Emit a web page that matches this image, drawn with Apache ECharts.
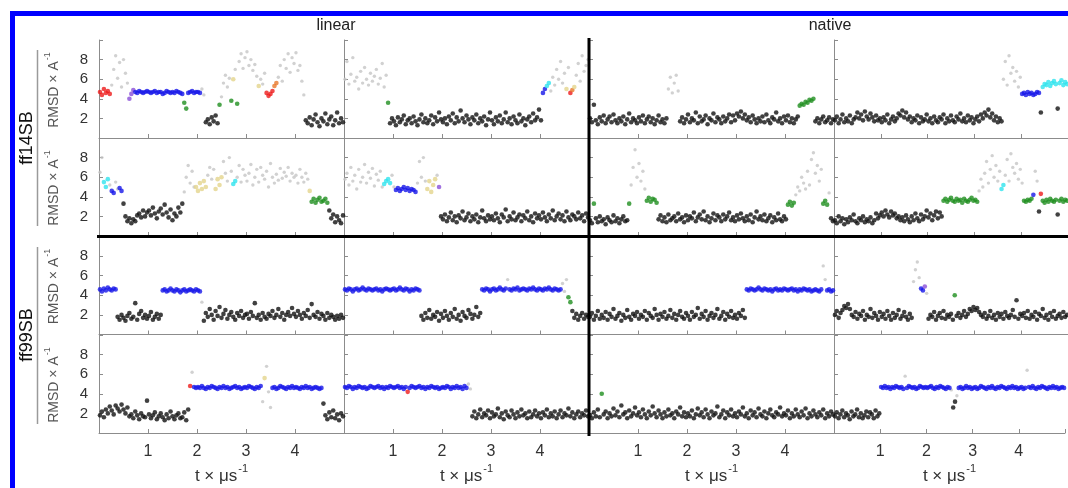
<!DOCTYPE html>
<html><head><meta charset="utf-8">
<script src="https://cdn.jsdelivr.net/npm/echarts@6/dist/echarts.min.js"></script>
<style>html,body{margin:0;padding:0;background:#fff}#c{width:1068px;height:488px}</style>
</head><body><div id="c"></div>
<script>
// Sampling of the plotted trajectory frames (µs)
const FRAME_T0 = 0.02, FRAME_DT = 0.04;
const X_TICKS = [1, 2, 3, 4];
const Y_TICKS = [2, 4, 6, 8];
const COLUMN_TITLES = ['linear', 'native'];
const ROW_TITLES = ['ff14SB', 'ff99SB'];

// Cluster codes: k black, b blue, r red, g green, c cyan, y khaki, o orange, p purple, n unclustered (grey)
// ---- ff14SB, row 1 ----
const p11_rmsd = [4.7,4.4,5.0,4.6,4.8,4.5,5.4,7.0,8.4,6.1,7.7,5.2,8.0,6.6,5.6,4.0,4.5,4.9,4.7,4.6,4.8,4.7,4.6,4.7,4.8,
4.7,4.6,4.7,4.8,4.6,4.7,4.7,4.5,4.6,4.8,4.7,4.6,4.7,4.6,4.8,4.7,4.6,4.5,3.6,3.0,4.6,4.7,4.8,4.6,4.7,
4.7,4.6,5.0,4.4,1.6,1.9,1.4,2.1,1.7,2.3,1.5,3.4,4.2,5.6,6.4,5.2,6.1,3.8,6.0,7.0,3.5,7.8,8.6,7.1,8.2,
8.8,7.4,8.0,6.9,7.5,6.3,5.3,6.0,5.5,6.6,4.6,4.3,4.5,4.8,5.3,5.6,6.2,7.4,5.8,8.0,7.1,8.6,6.7,8.2,7.6,
8.7,6.9,7.4,5.8,4.4,1.8,1.5,2.1,1.3,1.9,2.4,1.6,1.2,2.0,1.7,2.5,1.4,1.9,2.2,1.3,1.8,2.6,1.5,2.0,1.6];
const p11_runs = 'r6 n9 p3 b25 g2 b7 n2 k7 g1 n5 g1 y1 n1 g1 n10 y1 n3 r4 o2 n14 k20';

const p12_rmsd = [6.0,7.8,5.5,6.5,8.2,5.8,6.2,5.0,6.8,5.6,7.2,6.0,5.4,6.6,5.8,6.3,7.0,5.5,6.1,7.6,5.2,6.4,3.6,1.5,2.0,
1.7,1.3,2.1,1.6,1.9,2.3,1.4,1.8,2.0,1.5,2.2,1.7,1.3,1.9,2.4,1.6,2.0,1.5,1.8,2.3,1.4,2.1,1.7,2.6,1.9,
1.6,2.0,1.4,2.2,1.8,2.5,1.5,2.1,1.7,2.8,2.0,1.6,2.3,1.9,1.4,2.1,1.8,2.4,1.5,2.0,1.7,2.2,1.3,1.9,2.6,
1.8,1.4,2.1,1.7,2.3,1.5,1.9,2.6,1.6,2.0,1.4,2.2,1.8,1.5,2.4,1.7,2.0,1.3,1.9,2.2,1.6,2.5,1.8,2.1,2.9,
1.8,4.6,5.0,5.3,5.6,4.8,6.2,5.4,7.0,6.0,7.8,5.6,6.6,5.0,7.2,4.6,4.9,5.2,6.4,7.6,5.8,8.4,6.8,7.4,8.0];
const p12_runs = 'n22 g1 k78 b2 c2 n8 y1 n1 r1 o1 y1 n7';

const p13_rmsd = [2.0,1.6,3.4,1.8,1.4,2.1,1.7,2.3,1.5,1.9,2.2,1.6,2.4,1.8,1.5,2.0,1.7,2.2,1.4,1.9,2.5,1.6,2.0,1.8,1.5,
2.1,1.7,2.3,1.5,1.9,2.2,1.6,2.0,1.4,1.8,2.3,1.6,1.9,1.5,2.0,5.0,6.2,4.6,5.6,6.4,4.8,1.7,2.1,1.5,1.9,
2.4,1.6,2.0,1.8,2.6,1.5,2.2,1.7,1.9,2.3,1.4,2.0,1.8,2.5,1.6,2.1,1.9,1.5,2.2,1.7,2.0,2.4,1.6,2.3,1.8,
2.5,2.2,2.7,2.0,2.4,1.8,2.1,1.6,2.3,1.9,1.5,2.0,1.7,2.2,1.6,2.4,1.8,1.5,2.1,1.9,2.6,1.7,2.0,1.5,2.2,
1.8,2.3,1.6,2.0,1.5,1.9,2.2,3.3,3.5,3.4,3.7,3.6,3.9,3.8,4.0,1.7,2.0,1.5,1.9,2.2,1.6,1.8,2.1,1.5,1.9];
const p13_runs = 'k40 n6 k61 g8 k10';

const p14_rmsd = [1.8,2.2,1.5,1.9,2.4,1.6,2.0,1.7,2.3,1.5,1.9,2.1,2.6,2.0,2.4,1.8,2.7,2.2,1.9,2.5,2.1,1.7,2.3,1.8,2.0,
1.6,2.1,1.8,2.4,1.5,1.9,2.2,1.7,2.0,2.5,2.3,2.8,2.1,2.6,1.9,2.2,1.6,2.0,1.8,2.3,1.5,2.1,1.7,1.9,2.4,
1.7,2.0,1.5,2.2,1.8,1.6,2.1,1.9,2.4,1.5,2.0,1.7,2.3,1.8,1.6,2.2,1.9,2.5,1.7,2.0,1.6,2.3,1.8,2.1,1.5,
1.9,2.2,1.7,2.4,2.0,2.6,2.3,2.9,2.1,2.5,1.8,2.2,1.6,2.0,1.7,6.0,7.8,5.4,8.4,6.6,7.2,5.8,6.8,5.2,6.2,
4.5,4.6,4.4,4.7,4.5,4.6,4.4,4.5,4.7,4.6,2.6,5.2,5.5,5.4,5.7,5.3,5.6,5.8,5.5,3.0,5.6,5.9,5.4,5.7,5.5];
const p14_runs = 'k90 n10 b10 k1 c8 k1 c5';

// ---- ff14SB, row 2 ----
const p21_rmsd = [6.5,8.0,5.5,5.0,5.8,5.2,4.6,4.4,5.5,4.8,4.9,4.6,3.3,2.0,1.5,1.8,1.3,1.7,1.5,2.1,2.3,1.9,2.6,2.0,2.4,
2.6,2.1,2.9,2.3,1.8,2.5,2.8,2.2,3.2,2.4,1.9,2.7,1.6,2.3,2.0,2.9,2.4,3.3,4.5,6.0,7.2,5.4,6.6,5.0,5.0,
4.6,5.4,4.8,5.6,5.0,6.2,7.0,5.8,6.8,4.8,5.8,5.2,6.0,7.6,6.4,5.6,8.0,6.6,5.3,5.6,6.0,7.2,5.5,6.8,6.2,
5.6,6.4,7.3,5.2,6.0,6.8,5.5,7.0,6.2,5.8,6.6,5.0,7.4,6.0,5.4,6.3,5.7,6.9,5.9,6.5,6.1,7.0,5.6,6.4,6.0,
6.2,5.4,6.8,6.0,5.5,6.4,5.8,4.6,3.5,3.8,3.4,3.7,3.9,3.5,3.6,3.8,3.4,2.6,1.8,2.2,1.4,2.0,1.6,1.3,2.1];
const p21_runs = 'n2 c3 n1 b2 n2 b2 k31 n6 y6 n4 y4 n5 c2 n37 y1 g9 k8';

const p22_rmsd = [5.8,6.4,5.2,7.0,5.6,6.2,4.8,6.8,5.5,6.0,7.3,5.4,6.5,5.9,6.9,5.1,6.3,5.7,6.6,5.0,5.3,5.6,5.8,5.4,6.2,
5.0,4.7,4.9,4.6,4.8,5.0,4.7,4.9,4.6,4.8,4.7,4.5,5.4,7.6,6.0,8.0,5.6,4.8,5.6,4.5,5.2,5.8,6.2,5.0,2.0,
1.7,2.2,1.5,1.9,2.4,1.6,2.0,1.4,2.1,1.8,2.5,1.6,1.9,2.3,1.5,2.0,1.7,2.2,1.4,1.9,2.6,1.8,1.5,2.1,1.7,
2.0,1.6,2.3,1.8,1.4,2.2,1.9,2.7,1.5,2.0,1.7,2.4,1.6,1.9,2.2,1.5,2.1,1.8,2.5,1.6,2.0,1.4,2.3,1.8,2.1,
1.7,2.4,1.9,1.5,2.2,1.8,2.6,1.6,2.0,2.3,1.7,2.1,1.5,2.5,1.9,1.6,2.2,2.0,1.7,2.4,1.8,2.1,1.5,2.3,1.9];
const p22_runs = 'n20 c4 n2 b11 n5 y5 n1 p1 k76';

const p23_rmsd = [1.6,1.3,3.3,1.8,1.4,2.0,1.5,1.7,1.2,1.9,1.6,1.4,2.1,1.5,1.8,1.3,1.7,2.0,1.5,1.6,3.3,5.2,7.0,8.8,6.0,
7.4,5.6,6.6,4.8,3.6,3.9,3.5,3.8,3.7,3.4,1.7,2.1,1.5,1.9,1.4,2.2,1.6,1.8,2.0,1.5,2.3,1.7,1.9,1.4,2.1,
1.6,2.0,1.8,2.4,1.5,1.9,2.2,1.7,2.5,1.6,2.0,1.4,1.8,2.3,1.6,2.1,1.9,1.5,2.2,1.7,2.0,2.4,1.6,1.9,1.5,
2.1,1.7,2.3,1.8,1.5,2.0,1.6,2.2,1.4,1.9,2.5,1.7,2.0,1.6,2.2,1.5,1.8,2.1,1.4,1.9,1.6,2.3,1.7,1.5,2.0,
1.7,3.2,3.5,3.1,3.4,4.2,5.0,4.6,6.0,5.4,4.8,6.6,5.2,7.8,8.5,6.4,7.2,5.6,6.8,3.3,3.6,3.2,4.4,1.8,1.5];
const p23_runs = 'k2 g1 k17 g1 n8 g6 k66 g4 n14 g3 n1 k2';

const p24_rmsd = [1.6,1.3,2.0,1.5,1.8,1.2,1.7,1.4,1.9,1.6,2.2,1.5,1.3,1.8,1.6,2.0,1.4,1.7,1.5,1.9,1.3,1.6,2.3,1.8,2.1,
2.4,2.0,2.6,2.2,1.9,2.5,2.1,2.3,1.8,2.0,1.6,1.9,1.5,2.1,1.7,1.4,2.0,1.6,2.3,1.8,1.5,2.2,1.7,2.0,2.6,
1.9,2.3,1.6,2.1,2.5,1.8,2.4,2.0,3.6,3.8,3.5,3.7,3.9,3.6,3.5,3.8,3.6,3.7,3.4,3.8,3.6,3.5,3.7,3.9,3.6,
3.7,3.5,4.6,5.8,5.0,6.4,7.6,5.4,6.8,8.2,6.0,7.2,5.6,6.6,4.8,5.2,6.2,7.8,5.6,8.4,7.0,6.4,7.4,5.8,6.8,
5.4,3.6,3.5,3.7,3.6,3.8,4.2,6.6,5.6,2.5,4.3,3.6,3.4,3.7,3.5,3.8,3.6,3.5,3.7,2.2,3.6,3.8,3.5,3.7,3.6];
const p24_runs = 'k58 g19 n12 c2 n10 g5 b1 n2 k1 r1 g8 k1 g5';

// ---- ff99SB, row 3 ----
const p31_rmsd = [4.6,4.4,4.7,4.5,4.8,4.6,4.5,4.7,4.6,1.8,1.5,2.0,1.7,1.4,1.9,2.2,1.6,1.8,3.2,1.5,2.1,2.4,1.7,2.0,1.6,
1.9,2.3,1.5,1.8,2.1,1.6,2.0,4.5,4.6,4.4,4.5,4.7,4.5,4.4,4.6,4.5,4.3,4.5,4.6,4.4,4.5,4.6,4.5,4.4,4.6,
4.5,4.4,3.3,1.4,2.2,1.8,2.6,2.0,1.5,2.4,1.9,2.8,1.7,2.1,2.5,1.6,2.0,2.3,1.8,1.5,2.2,1.9,2.4,1.7,2.0,
2.1,1.6,2.3,1.9,3.2,1.7,2.0,1.5,2.2,1.8,1.6,2.1,1.9,2.4,1.7,2.0,2.6,1.8,2.2,1.5,2.0,2.3,1.9,2.7,2.1,
1.8,2.4,2.0,1.6,2.2,1.9,2.5,1.7,3.1,2.0,1.8,2.3,1.6,2.1,1.9,1.5,2.2,1.7,2.0,1.8,1.5,1.9,1.6,2.0,1.7];
const p31_runs = 'b9 k23 b20 n1 k72';

const p32_rmsd = [4.6,4.5,4.7,4.6,4.4,4.6,4.7,4.5,4.6,4.8,4.6,4.5,4.7,4.6,4.5,4.6,4.7,4.5,4.6,4.4,4.6,4.7,4.6,4.5,4.6,
4.7,4.5,4.6,4.8,4.6,4.5,4.7,4.6,4.4,4.6,4.5,4.7,4.6,4.5,1.9,1.5,2.2,1.7,2.5,1.6,2.0,1.8,2.3,1.4,2.1,
1.7,2.4,1.9,1.5,2.2,1.8,2.6,1.6,2.0,1.4,2.3,1.9,1.7,2.5,2.1,1.6,2.0,2.8,1.8,2.2,4.6,4.5,4.7,4.6,4.4,
4.6,4.7,4.5,4.6,4.8,4.6,4.5,4.7,5.6,4.6,4.5,4.7,4.6,4.8,4.5,4.6,4.7,4.6,4.5,4.7,4.6,4.8,4.6,4.5,4.7,
4.6,4.5,4.7,4.6,4.8,4.6,4.5,4.7,4.6,4.5,4.6,5.2,4.4,5.6,3.8,3.3,2.4,1.7,2.1,1.5,1.9,2.2,1.6,2.0,1.8];
const p32_runs = 'b39 k31 b13 n1 b27 n3 g2 k9';

const p33_rmsd = [1.8,2.2,1.5,1.9,2.4,1.6,2.0,1.7,2.3,1.5,2.1,1.8,2.6,1.6,1.9,2.2,1.4,2.0,1.7,2.5,1.8,1.5,2.1,1.9,2.3,
1.6,2.0,1.8,2.4,1.5,2.2,1.9,1.7,2.6,2.0,1.5,2.1,1.8,2.3,1.6,1.9,2.5,1.7,2.1,1.5,2.0,2.4,1.8,1.6,2.2,
1.9,1.5,2.3,1.8,2.0,2.7,1.6,2.1,1.8,2.4,1.5,1.9,2.2,1.7,2.0,2.6,1.6,1.9,2.3,1.5,2.1,1.8,2.4,1.7,2.0,
1.6,2.2,1.9,2.5,1.7,4.6,4.5,4.7,4.6,4.5,4.6,4.8,4.6,4.5,4.7,4.6,4.5,4.6,4.4,4.6,4.7,4.5,4.6,4.5,4.7,
4.6,4.5,4.6,4.7,4.5,4.6,4.4,4.6,4.5,4.7,4.6,4.5,4.6,4.4,4.5,4.6,4.5,4.4,4.6,7.0,5.6,4.5,4.6,4.4,4.5];
const p33_runs = 'k80 b39 n2 b4';

const p34_rmsd = [2.0,2.4,1.7,2.2,2.5,2.9,2.7,3.1,2.6,2.0,1.8,2.3,1.6,2.1,1.9,2.4,1.5,2.0,1.8,2.6,1.7,2.2,1.9,1.5,2.3,
1.8,2.1,1.6,2.4,1.9,1.5,2.2,1.7,2.0,2.5,1.6,1.9,2.3,1.8,1.5,2.1,1.7,5.4,6.6,7.4,5.8,4.7,4.5,4.9,4.2,
1.6,2.0,1.8,2.3,1.5,1.9,2.2,1.7,2.4,1.6,2.0,1.8,2.1,1.5,4.0,1.9,2.2,1.7,2.0,2.4,1.8,2.1,2.6,2.4,2.8,
2.5,2.7,2.3,2.0,1.8,2.2,1.6,1.9,2.4,1.7,2.0,1.5,2.2,1.8,2.1,1.6,2.3,1.9,1.7,2.0,2.5,1.8,3.5,1.6,2.1,
1.9,2.2,1.7,2.4,1.6,2.0,1.8,2.3,1.5,2.1,1.9,2.6,1.7,2.0,1.5,2.2,1.8,2.4,1.6,1.9,2.1,1.7,2.3,1.8,2.0];
const p34_runs = 'k42 n4 b2 p1 n1 k14 g1 k60';

// ---- ff99SB, row 4 ----
const p41_rmsd = [1.8,2.2,1.6,2.4,2.0,2.7,2.3,1.9,2.8,2.5,2.2,2.9,2.4,2.0,2.6,1.7,1.9,1.5,2.2,1.8,1.4,2.0,1.7,1.6,3.3,
1.9,1.5,1.8,2.1,1.4,1.7,2.0,1.6,1.3,1.9,1.5,2.2,1.7,1.4,1.8,2.0,1.5,1.6,2.1,1.3,2.4,4.8,6.2,4.7,4.6,
4.7,4.6,4.8,4.6,4.5,4.7,4.6,4.8,4.7,4.6,4.5,4.7,4.6,4.8,4.6,4.7,4.5,4.6,4.7,4.8,4.6,4.7,4.5,4.6,4.7,
4.6,4.8,4.7,4.6,4.5,4.7,4.6,4.8,3.2,5.6,6.8,4.2,2.6,4.6,4.7,4.5,4.6,4.8,4.7,4.6,4.5,4.7,4.6,4.8,4.6,
4.7,4.6,4.5,4.7,4.6,4.8,4.6,4.7,4.5,4.6,4.7,4.6,4.5,4.6,3.0,1.8,1.4,2.1,1.6,2.3,1.5,1.9,1.3,2.0,1.7];
const p41_runs = 'k46 r1 n1 b35 n1 y1 n3 b26 k11';

const p42_rmsd = [4.7,4.6,4.8,4.7,4.5,4.7,4.6,4.8,4.7,4.6,4.7,4.5,4.6,4.8,4.7,4.6,4.7,4.8,4.6,4.7,4.5,4.7,4.6,4.8,4.7,
4.6,4.7,4.8,4.6,4.7,4.5,4.7,4.2,4.6,4.8,4.7,4.6,4.7,4.8,4.6,4.7,4.5,4.7,4.6,4.8,4.7,4.6,4.7,4.5,4.6,
4.7,4.6,4.8,4.7,4.5,4.7,4.6,4.8,4.6,4.7,4.5,4.8,4.6,5.0,4.5,1.7,2.2,1.5,1.9,2.4,1.6,2.0,1.8,2.3,1.5,
2.1,1.7,1.9,2.5,1.6,2.0,1.4,2.2,1.8,1.6,2.3,1.9,1.5,2.1,1.7,2.4,1.8,2.0,1.5,2.2,1.6,1.9,2.3,1.7,2.0,
1.5,2.1,1.8,2.4,1.6,2.0,1.7,2.2,1.5,1.9,2.3,1.6,2.0,1.8,2.5,1.7,2.1,1.5,1.9,2.2,1.6,2.0,1.8,2.3,1.7];
const p42_runs = 'b32 r1 b30 n2 k60';

const p43_rmsd = [1.8,1.5,2.1,1.7,2.4,1.6,4.0,1.9,2.2,1.5,2.0,1.7,2.5,1.8,2.2,1.6,2.8,1.9,2.1,1.5,2.3,1.7,2.0,2.6,1.8,
2.1,1.6,2.4,1.9,1.5,2.2,1.8,2.7,2.0,1.6,2.3,1.9,1.5,2.1,1.7,2.4,1.8,2.0,1.5,2.2,1.9,2.6,1.7,2.1,1.6,
2.0,1.7,2.3,1.5,1.9,2.5,1.8,2.1,1.6,2.4,1.9,1.5,2.2,1.8,2.0,2.7,1.6,1.9,2.3,1.5,2.1,1.8,2.4,1.7,2.0,
1.6,2.2,1.9,2.6,1.7,2.0,1.5,2.3,1.8,2.1,1.6,2.5,1.9,1.7,2.2,1.5,2.0,2.4,1.8,1.6,2.1,1.9,2.6,1.7,2.0,
1.8,2.3,1.5,2.0,1.7,2.4,1.9,1.6,2.2,1.8,2.5,1.5,2.0,1.7,2.3,1.9,1.6,2.1,1.8,2.4,1.5,2.0,1.7,2.2,1.9];
const p43_runs = 'k6 g1 k118';

const p44_rmsd = [1.7,2.1,1.5,1.9,2.3,1.6,2.0,1.8,1.4,2.2,1.7,1.9,2.4,1.6,2.0,1.5,1.8,2.2,1.6,2.1,1.9,1.5,2.3,1.7,2.0,
4.7,4.6,4.8,4.6,4.7,4.5,4.7,4.6,4.8,4.7,4.6,4.7,4.5,5.8,4.6,4.8,4.7,4.6,4.7,4.5,4.6,4.8,4.7,4.6,4.7,
4.6,4.7,4.8,4.6,4.5,4.7,4.6,4.8,4.7,4.6,4.5,4.7,4.6,4.4,2.6,3.2,3.8,4.6,4.7,4.5,4.6,4.8,4.6,4.7,4.5,
4.6,4.7,4.5,4.6,4.8,4.7,4.6,4.5,4.7,4.6,4.8,4.6,4.5,4.7,4.6,4.8,4.7,4.6,4.5,4.7,4.6,4.8,4.6,4.7,4.5,
4.6,4.7,4.5,4.6,6.4,4.7,4.6,4.8,4.6,4.5,4.7,4.6,4.8,4.7,4.6,4.5,4.7,4.6,4.8,4.6,4.7,4.5,4.6,4.7,4.6];
const p44_runs = 'k25 b13 n1 b24 n1 k2 n1 b37 n1 b20';

const PANEL_DATA = [
  [p11_rmsd, p11_runs], [p12_rmsd, p12_runs], [p13_rmsd, p13_runs], [p14_rmsd, p14_runs],
  [p21_rmsd, p21_runs], [p22_rmsd, p22_runs], [p23_rmsd, p23_runs], [p24_rmsd, p24_runs],
  [p31_rmsd, p31_runs], [p32_rmsd, p32_runs], [p33_rmsd, p33_runs], [p34_rmsd, p34_runs],
  [p41_rmsd, p41_runs], [p42_rmsd, p42_runs], [p43_rmsd, p43_runs], [p44_rmsd, p44_runs]
];

const CLUSTER_COLORS = {
  k: '#111111', b: '#1616e8', r: '#ee1c1c', g: '#1f8f1f', c: '#30e4ee',
  y: '#e4d48c', o: '#e8782a', p: '#8a4fd8', n: '#c6c6c6'
};

function expandRuns(s) {
  const out = [];
  s.trim().split(/\s+/).forEach(tok => {
    const code = tok[0], n = parseInt(tok.slice(1), 10);
    for (let i = 0; i < n; i++) out.push(code);
  });
  return out;
}

const COL_LEFT = [99, 344, 589, 834];
const ROW_TOP = [40, 138, 236.5, 335];
const PW = 245, PH = 98;
const FONT = '"Liberation Sans", Arial, sans-serif';
const AXIS_GREY = '#8c8c8c';

const grids = [], xAxes = [], yAxes = [], series = [];
for (let r = 0; r < 4; r++) {
  for (let c = 0; c < 4; c++) {
    const idx = r * 4 + c;
    grids.push({ left: COL_LEFT[c], top: ROW_TOP[r], width: PW, height: PH });
    xAxes.push({
      gridIndex: idx, type: 'value', min: 0, max: 5, interval: 1,
      axisLine: { show: true, lineStyle: { color: AXIS_GREY, width: 1 } },
      axisTick: { show: true, inside: true, length: 4, lineStyle: { color: AXIS_GREY } },
      splitLine: { show: false },
      axisLabel: {
        show: r === 3, fontSize: 16, color: '#333', fontFamily: FONT, margin: 11,
        formatter: v => X_TICKS.includes(v) ? String(v) : ''
      },
      name: r === 3 ? '{a|t × μs}{s|-1}' : '',
      nameLocation: 'middle', nameGap: 30,
      nameTextStyle: {
        rich: {
          a: { fontSize: 17, color: '#333', fontFamily: FONT, lineHeight: 22, verticalAlign: 'bottom' },
          s: { fontSize: 11, color: '#333', fontFamily: FONT, lineHeight: 22, verticalAlign: 'top', padding: [0, 0, 0, 1] }
        }
      }
    });
    yAxes.push({
      gridIndex: idx, type: 'value', min: 0, max: 10, interval: 2,
      axisLine: { show: true, lineStyle: { color: AXIS_GREY, width: 1 } },
      axisTick: { show: true, inside: true, length: 4, lineStyle: { color: AXIS_GREY } },
      splitLine: { show: false },
      axisLabel: {
        show: c === 0, fontSize: 15, color: '#333', fontFamily: FONT, margin: 11,
        formatter: v => Y_TICKS.includes(v) ? String(v) : ''
      }
    });
    const [vals, runs] = PANEL_DATA[idx];
    const codes = expandRuns(runs);
    const grey = [], coloured = [];
    vals.forEach((v, i) => {
      const t = +(FRAME_T0 + FRAME_DT * i).toFixed(3);
      const code = codes[i] || 'k';
      if (code === 'n') grey.push([t, v]);
      else coloured.push({ value: [t, v], itemStyle: { color: CLUSTER_COLORS[code] } });
    });
    series.push({
      type: 'scatter', xAxisIndex: idx, yAxisIndex: idx, data: grey,
      symbolSize: 3.4, itemStyle: { color: CLUSTER_COLORS.n }, z: 2, silent: true
    });
    series.push({
      type: 'scatter', xAxisIndex: idx, yAxisIndex: idx, data: coloured,
      symbolSize: 4.6, z: 3, silent: true
    });
  }
}

const rowCentres = ROW_TOP.map(t => t + PH / 2);
const graphics = [
  // blue frame (right/bottom edges fall outside the picture)
  { type: 'rect', shape: { x: 12.5, y: 13.5, width: 1100, height: 500 },
    style: { fill: null, stroke: '#0000ff', lineWidth: 5 }, z: 100 },
  // thick separators
  { type: 'line', shape: { x1: 589, y1: 38, x2: 589, y2: 436 }, style: { stroke: '#000', lineWidth: 3 }, z: 50 },
  { type: 'line', shape: { x1: 97, y1: 236.5, x2: 1080, y2: 236.5 }, style: { stroke: '#000', lineWidth: 3 }, z: 50 },
  // column titles
  { type: 'text', x: 336, y: 26, style: { text: COLUMN_TITLES[0], font: '16px ' + FONT, fill: '#222', align: 'center', verticalAlign: 'middle' }, z: 60 },
  { type: 'text', x: 830, y: 26, style: { text: COLUMN_TITLES[1], font: '16px ' + FONT, fill: '#222', align: 'center', verticalAlign: 'middle' }, z: 60 },
  // row group titles
  { type: 'text', x: 27, y: 138, rotation: Math.PI / 2, style: { text: ROW_TITLES[0], font: '18px ' + FONT, fill: '#111', align: 'center', verticalAlign: 'middle' }, z: 60 },
  { type: 'text', x: 27, y: 335, rotation: Math.PI / 2, style: { text: ROW_TITLES[1], font: '18px ' + FONT, fill: '#111', align: 'center', verticalAlign: 'middle' }, z: 60 },
  // bracket lines
  { type: 'line', shape: { x1: 37.5, y1: 50, x2: 37.5, y2: 226 }, style: { stroke: '#9a9a9a', lineWidth: 1.5 }, z: 60 },
  { type: 'line', shape: { x1: 37.5, y1: 247, x2: 37.5, y2: 424 }, style: { stroke: '#9a9a9a', lineWidth: 1.5 }, z: 60 }
];
rowCentres.forEach(cy => {
  graphics.push({
    type: 'text', x: 52, y: cy + 1, rotation: Math.PI / 2,
    style: {
      text: '{a|RMSD × A}{s|-1}', align: 'center', verticalAlign: 'middle',
      rich: {
        a: { fontSize: 14, fill: '#555', fontFamily: FONT, lineHeight: 18, verticalAlign: 'bottom' },
        s: { fontSize: 9, fill: '#555', fontFamily: FONT, lineHeight: 18, verticalAlign: 'top', padding: [0, 0, 0, 1] }
      }
    }, z: 60
  });
});

const chart = echarts.init(document.getElementById('c'), null, { renderer: 'canvas' });
chart.setOption({
  animation: false,
  backgroundColor: '#fff',
  grid: grids, xAxis: xAxes, yAxis: yAxes, series: series,
  graphic: graphics
});
</script>
</body></html>
